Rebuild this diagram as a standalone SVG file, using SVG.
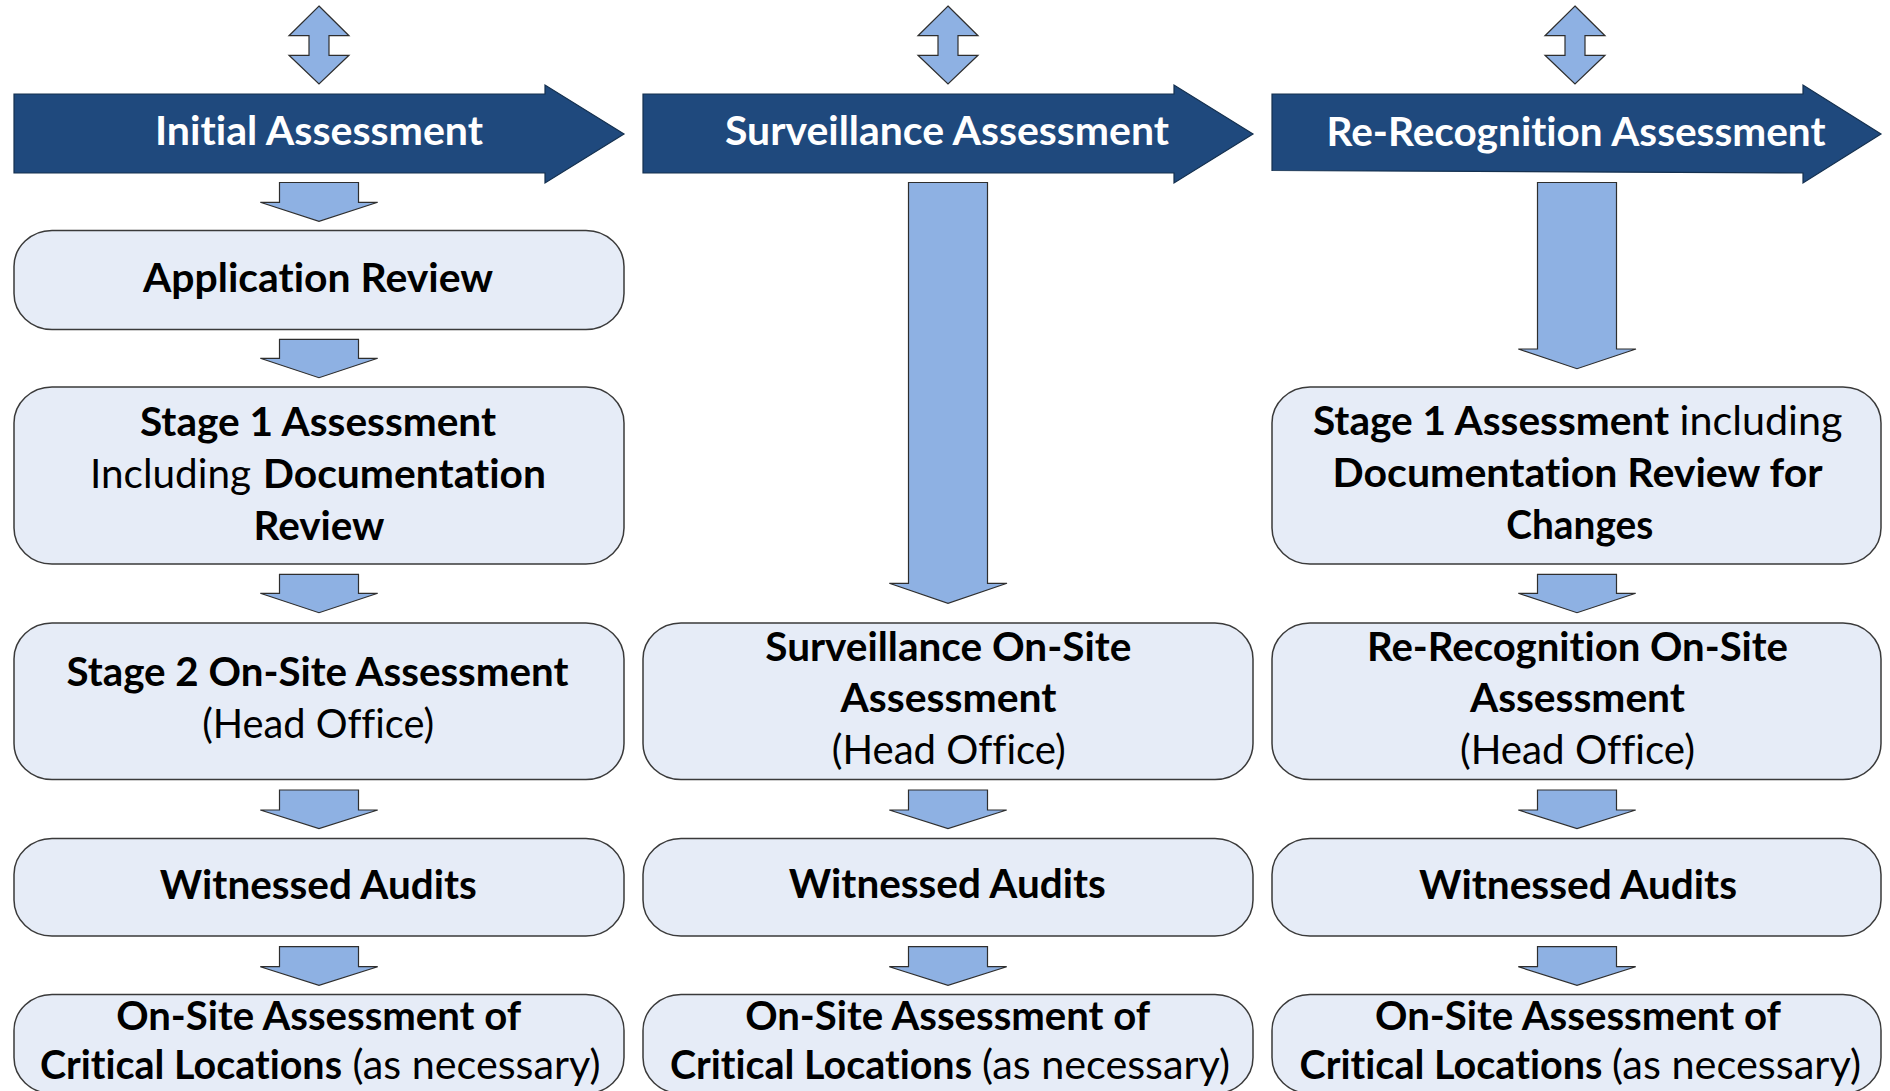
<svg xmlns="http://www.w3.org/2000/svg" width="1890" height="1091" viewBox="0 0 1890 1091">
  <style>
    .banner { fill: #1F497D; stroke: #14304F; stroke-width: 1.2; }
    .box { fill: #E6ECF7; stroke: #3A3A3A; stroke-width: 1.5; }
    .flow { fill: #8EB1E3; stroke: #2E2E2E; stroke-width: 1.2; stroke-linejoin: miter; }
    text { font-family: Lato, "Liberation Sans", sans-serif; font-size: 41px; font-variant-ligatures: none; font-feature-settings: "liga" 0, "clig" 0; }
    .hd { fill: #FFFFFF; font-weight: 700; }
    .b { fill: #000000; font-weight: 700; }
    .r { fill: #000000; font-weight: 400; }
  </style>

  <rect x="0" y="0" width="1890" height="1091" fill="#FFFFFF"/>

  <!-- Connectors: double-headed arrows above the banners and block arrows between steps -->
  <g id="connectors">
    <path class="flow" d="M319,6 L349,35.7 L329,35.7 L329,55.3 L349,55.3 L319,84 L289,55.3 L309,55.3 L309,35.7 L289,35.7 Z"/>
    <path class="flow" d="M948,6 L978,35.7 L958,35.7 L958,55.3 L978,55.3 L948,84 L918,55.3 L938,55.3 L938,35.7 L918,35.7 Z"/>
    <path class="flow" d="M1575,6 L1605,35.7 L1585,35.7 L1585,55.3 L1605,55.3 L1575,84 L1545,55.3 L1565,55.3 L1565,35.7 L1545,35.7 Z"/>

    <!-- column 1 -->
    <path class="flow" d="M279.5,182.5 L358.5,182.5 L358.5,202.3 L377.7,202.3 L319,221.3 L260.3,202.3 L279.5,202.3 Z"/>
    <path class="flow" d="M279.5,339.3 L358.5,339.3 L358.5,358.3 L377.7,358.3 L319,377.7 L260.3,358.3 L279.5,358.3 Z"/>
    <path class="flow" d="M279.5,574.3 L358.5,574.3 L358.5,593.3 L377.7,593.3 L319,612.7 L260.3,593.3 L279.5,593.3 Z"/>
    <path class="flow" d="M279.5,790 L358.5,790 L358.5,810 L377.7,810 L319,828.5 L260.3,810 L279.5,810 Z"/>
    <path class="flow" d="M279.5,946.7 L358.5,946.7 L358.5,966.7 L377.7,966.7 L319,985.3 L260.3,966.7 L279.5,966.7 Z"/>

    <!-- column 2 -->
    <path class="flow" d="M908.5,182.5 L987.5,182.5 L987.5,583.3 L1007,583.3 L948,603.3 L889.3,583.3 L908.5,583.3 Z"/>
    <path class="flow" d="M908.5,790 L987.5,790 L987.5,810 L1006.7,810 L948,828.5 L889.3,810 L908.5,810 Z"/>
    <path class="flow" d="M908.5,946.7 L987.5,946.7 L987.5,966.7 L1006.7,966.7 L948,985.3 L889.3,966.7 L908.5,966.7 Z"/>

    <!-- column 3 -->
    <path class="flow" d="M1537.5,182.5 L1616.5,182.5 L1616.5,349 L1636,349 L1577,368.7 L1518.3,349 L1537.5,349 Z"/>
    <path class="flow" d="M1537.5,574.3 L1616.5,574.3 L1616.5,593.3 L1635.7,593.3 L1577,612.7 L1518.3,593.3 L1537.5,593.3 Z"/>
    <path class="flow" d="M1537.5,790 L1616.5,790 L1616.5,810 L1635.7,810 L1577,828.5 L1518.3,810 L1537.5,810 Z"/>
    <path class="flow" d="M1537.5,946.7 L1616.5,946.7 L1616.5,966.7 L1635.7,966.7 L1577,985.3 L1518.3,966.7 L1537.5,966.7 Z"/>
  </g>

  <!-- Phase banners -->
  <g id="banner-initial">
    <path class="banner" d="M14,94 L545,94 L545,85 L624,134 L545,183 L545,173 L14,173 Z"/>
    <text class="hd" x="319" y="145" text-anchor="middle" textLength="328" lengthAdjust="spacingAndGlyphs">Initial Assessment</text>
  </g>
  <g id="banner-surveillance">
    <path class="banner" d="M643,94 L1174,94 L1174,85 L1253,134 L1174,183 L1174,173 L643,173 Z"/>
    <text class="hd" x="947" y="145" text-anchor="middle" textLength="444" lengthAdjust="spacingAndGlyphs">Surveillance Assessment</text>
  </g>
  <g id="banner-rerecognition">
    <path class="banner" d="M1272,94 L1803,94 L1803,85 L1881,134 L1803,183 L1803,173 L1272,170.5 Z"/>
    <text class="hd" x="1576" y="145.5" text-anchor="middle" textLength="499" lengthAdjust="spacingAndGlyphs">Re-Recognition Assessment</text>
  </g>

  <!-- Column 1: initial assessment steps -->
  <g id="initial-application-review">
    <rect class="box" x="14" y="230.5" width="610" height="99" rx="38" ry="36"/>
    <text class="b" x="318" y="292" text-anchor="middle" textLength="350" lengthAdjust="spacingAndGlyphs">Application Review</text>
  </g>
  <g id="initial-stage1">
    <rect class="box" x="14" y="387" width="610" height="177" rx="38" ry="36"/>
    <text class="b" x="318" y="435.5" text-anchor="middle" textLength="356" lengthAdjust="spacingAndGlyphs">Stage 1 Assessment</text>
    <text class="r" x="90" y="488" textLength="161" lengthAdjust="spacingAndGlyphs">Including</text>
    <text class="b" x="263" y="488" textLength="283" lengthAdjust="spacingAndGlyphs">Documentation</text>
    <text class="b" x="319" y="539.5" text-anchor="middle" textLength="131" lengthAdjust="spacingAndGlyphs">Review</text>
  </g>
  <g id="initial-stage2">
    <rect class="box" x="14" y="623" width="610" height="156.5" rx="38" ry="36"/>
    <text class="b" x="317.5" y="685.5" text-anchor="middle" textLength="502" lengthAdjust="spacingAndGlyphs">Stage 2 On-Site Assessment</text>
    <text class="r" x="318.2" y="737.5" text-anchor="middle" textLength="232" lengthAdjust="spacingAndGlyphs">(Head Office)</text>
  </g>
  <g id="initial-witnessed">
    <rect class="box" x="14" y="838.5" width="610" height="97.5" rx="38" ry="36"/>
    <text class="b" x="318.3" y="898.5" text-anchor="middle" textLength="317" lengthAdjust="spacingAndGlyphs">Witnessed Audits</text>
  </g>
  <g id="initial-critical">
    <rect class="box" x="14" y="994.5" width="610" height="99" rx="38" ry="36"/>
    <text class="b" x="318.7" y="1030" text-anchor="middle" textLength="405" lengthAdjust="spacingAndGlyphs">On-Site Assessment of</text>
    <text class="b" x="40" y="1079" textLength="302" lengthAdjust="spacingAndGlyphs">Critical Locations</text>
    <text class="r" x="352.5" y="1079" textLength="248" lengthAdjust="spacingAndGlyphs">(as necessary)</text>
  </g>

  <!-- Column 2: surveillance steps -->
  <g id="surveillance-onsite">
    <rect class="box" x="643" y="623" width="610" height="156.5" rx="38" ry="36"/>
    <text class="b" x="948.3" y="661" text-anchor="middle" textLength="366" lengthAdjust="spacingAndGlyphs">Surveillance On-Site</text>
    <text class="b" x="948.5" y="712" text-anchor="middle" textLength="216" lengthAdjust="spacingAndGlyphs">Assessment</text>
    <text class="r" x="948.8" y="764.3" text-anchor="middle" textLength="234" lengthAdjust="spacingAndGlyphs">(Head Office)</text>
  </g>
  <g id="surveillance-witnessed">
    <rect class="box" x="643" y="838.5" width="610" height="97.5" rx="38" ry="36"/>
    <text class="b" x="947.3" y="898.3" text-anchor="middle" textLength="317" lengthAdjust="spacingAndGlyphs">Witnessed Audits</text>
  </g>
  <g id="surveillance-critical">
    <rect class="box" x="643" y="994.5" width="610" height="99" rx="38" ry="36"/>
    <text class="b" x="947.7" y="1030" text-anchor="middle" textLength="405" lengthAdjust="spacingAndGlyphs">On-Site Assessment of</text>
    <text class="b" x="670" y="1079" textLength="302" lengthAdjust="spacingAndGlyphs">Critical Locations</text>
    <text class="r" x="982" y="1079" textLength="248" lengthAdjust="spacingAndGlyphs">(as necessary)</text>
  </g>

  <!-- Column 3: re-recognition steps -->
  <g id="rerecognition-stage1">
    <rect class="box" x="1272" y="387" width="609" height="177" rx="38" ry="36"/>
    <text class="b" x="1313" y="435" textLength="356" lengthAdjust="spacingAndGlyphs">Stage 1 Assessment</text>
    <text class="r" x="1679.5" y="435" textLength="163" lengthAdjust="spacingAndGlyphs">including</text>
    <text class="b" x="1577.6" y="487" text-anchor="middle" textLength="490" lengthAdjust="spacingAndGlyphs">Documentation Review for</text>
    <text class="b" x="1579.8" y="538.7" text-anchor="middle" textLength="147" lengthAdjust="spacingAndGlyphs">Changes</text>
  </g>
  <g id="rerecognition-onsite">
    <rect class="box" x="1272" y="623" width="609" height="156.5" rx="38" ry="36"/>
    <text class="b" x="1577.5" y="661" text-anchor="middle" textLength="421" lengthAdjust="spacingAndGlyphs">Re-Recognition On-Site</text>
    <text class="b" x="1577.4" y="712" text-anchor="middle" textLength="215" lengthAdjust="spacingAndGlyphs">Assessment</text>
    <text class="r" x="1577.4" y="764.3" text-anchor="middle" textLength="235" lengthAdjust="spacingAndGlyphs">(Head Office)</text>
  </g>
  <g id="rerecognition-witnessed">
    <rect class="box" x="1272" y="838.5" width="609" height="97.5" rx="38" ry="36"/>
    <text class="b" x="1578" y="898.5" text-anchor="middle" textLength="318" lengthAdjust="spacingAndGlyphs">Witnessed Audits</text>
  </g>
  <g id="rerecognition-critical">
    <rect class="box" x="1272" y="994.5" width="609" height="99" rx="38" ry="36"/>
    <text class="b" x="1578" y="1030" text-anchor="middle" textLength="406" lengthAdjust="spacingAndGlyphs">On-Site Assessment of</text>
    <text class="b" x="1299.5" y="1079" textLength="303" lengthAdjust="spacingAndGlyphs">Critical Locations</text>
    <text class="r" x="1612" y="1079" textLength="249" lengthAdjust="spacingAndGlyphs">(as necessary)</text>
  </g>
</svg>
